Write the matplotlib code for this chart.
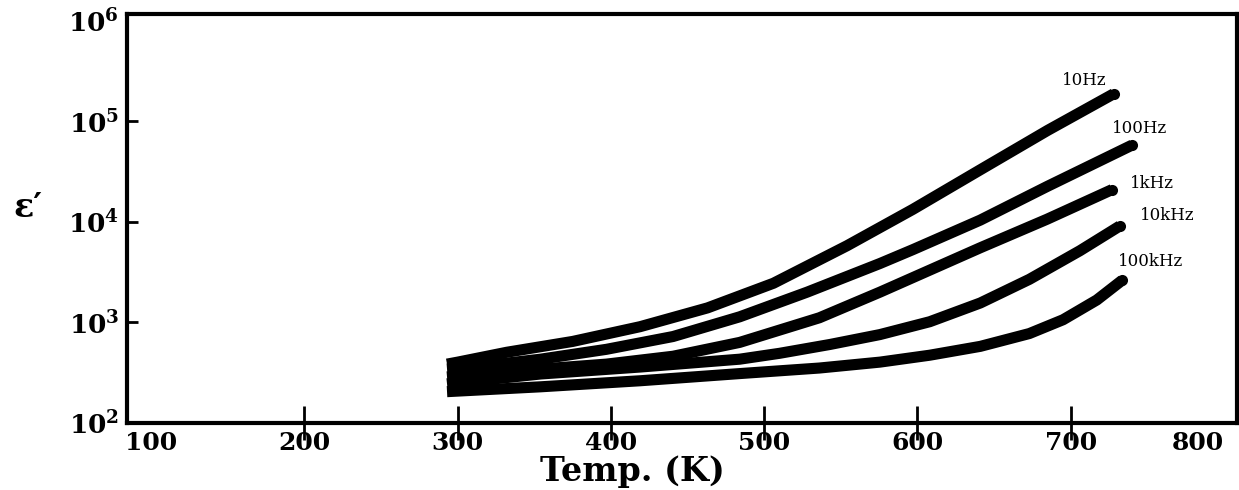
import matplotlib
matplotlib.use('Agg')
import matplotlib.pyplot as plt
import numpy as np

plt.rcParams['font.family'] = 'DejaVu Serif'
plt.rcParams['mathtext.fontset'] = 'dejavuserif'

# values (T in K, eps' on log scale)
t_10hz = [293, 300, 332, 375, 419, 463, 506, 554, 597, 641, 685, 728]
e_10hz = [385, 403, 505, 647, 907, 1394, 2450, 5780, 13300, 32900, 81100, 187000]

t_100hz = [293, 310, 354, 397, 440.5, 484, 528, 575.5, 597, 641, 684.5, 740]
e_100hz = [344, 360, 431, 540, 724, 1137, 1999, 3850, 5290, 10400, 22400, 57800]

t_1khz = [293, 354, 397, 440.5, 484, 536, 575.5, 641, 684.5, 727]
e_1khz = [287, 344, 385, 461, 633, 1112, 1999, 5520, 10600, 20900]

t_10khz = [293, 354, 419, 484, 510, 543, 575.5, 608, 641, 673, 706, 732]
e_10khz = [245, 307, 360, 431, 493, 604, 757, 1016, 1560, 2680, 5160, 9080]

t_100khz = [293, 354, 419, 484, 536, 575.5, 608, 641, 673, 695, 717, 733.5]
e_100khz = [205, 229, 263, 310, 352, 403, 472, 578, 775, 1063, 1670, 2620]

labels = ['10Hz', '100Hz', '1kHz', '10kHz', '100kHz']
label_t = [709, 745, 753, 763, 752]
label_e = [2.56e5, 8.5e4, 2.39e4, 1.16e4, 4030]

xticks = [100, 200, 300, 400, 500, 600, 700, 800]
yticks = [1e2, 1e3, 1e4, 1e5, 1e6]
ytick_labels = [r'$\mathbf{10^{2}}$', r'$\mathbf{10^{3}}$', r'$\mathbf{10^{4}}$',
                r'$\mathbf{10^{5}}$', r'$\mathbf{10^{6}}$']

fig = plt.figure(figsize=(12.39, 4.90), dpi=100)
ax = fig.add_axes([0.1029, 0.1367, 0.8955, 0.8357])

lw = 8
for t, e in [(t_10hz, e_10hz), (t_100hz, e_100hz), (t_1khz, e_1khz),
             (t_10khz, e_10khz), (t_100khz, e_100khz)]:
    ax.plot(t, e, color='black', lw=lw, solid_capstyle='butt',
            solid_joinstyle='round', marker='o', markevery=[len(t) - 1],
            markersize=lw, markeredgewidth=0)

for lab, t, e in zip(labels, label_t, label_e):
    ax.text(t, e, lab, fontsize=12, ha='center', va='center')

ax.set_yscale('log')
ax.set_xlim(84.5, 808.5)
ax.set_ylim(1e2, 10**6.07)

ax.set_xticks(xticks)
ax.set_xticklabels([str(v) for v in xticks], fontsize=18, fontweight='bold')
ax.set_yticks(yticks)
ax.set_yticklabels(ytick_labels, fontsize=19)
ax.yaxis.set_minor_locator(matplotlib.ticker.NullLocator())

ax.tick_params(axis='x', direction='inout', length=24, width=2, pad=-6)
ax.tick_params(axis='y', direction='in', length=8, width=2, pad=6)
xt = ax.xaxis.get_major_ticks()
xt[0].tick1line.set_visible(False)
xt[-1].tick1line.set_visible(False)
xt[-1].label1.set_horizontalalignment('right')
yt = ax.yaxis.get_major_ticks()
yt[0].tick1line.set_visible(False)
yt[-1].tick1line.set_visible(False)

for s in ax.spines.values():
    s.set_linewidth(3)

ax.set_xlabel('Temp. (K)', fontsize=24, fontweight='bold', va='top')
ax.xaxis.set_label_coords(0.4547, -0.078)
ax.set_ylabel('\u03b5\u2032', fontsize=24, fontweight='bold', rotation=0,
              va='center', ha='center')
ax.yaxis.set_label_coords(-0.0897, 0.527)

plt.savefig('out.png', dpi=100)
